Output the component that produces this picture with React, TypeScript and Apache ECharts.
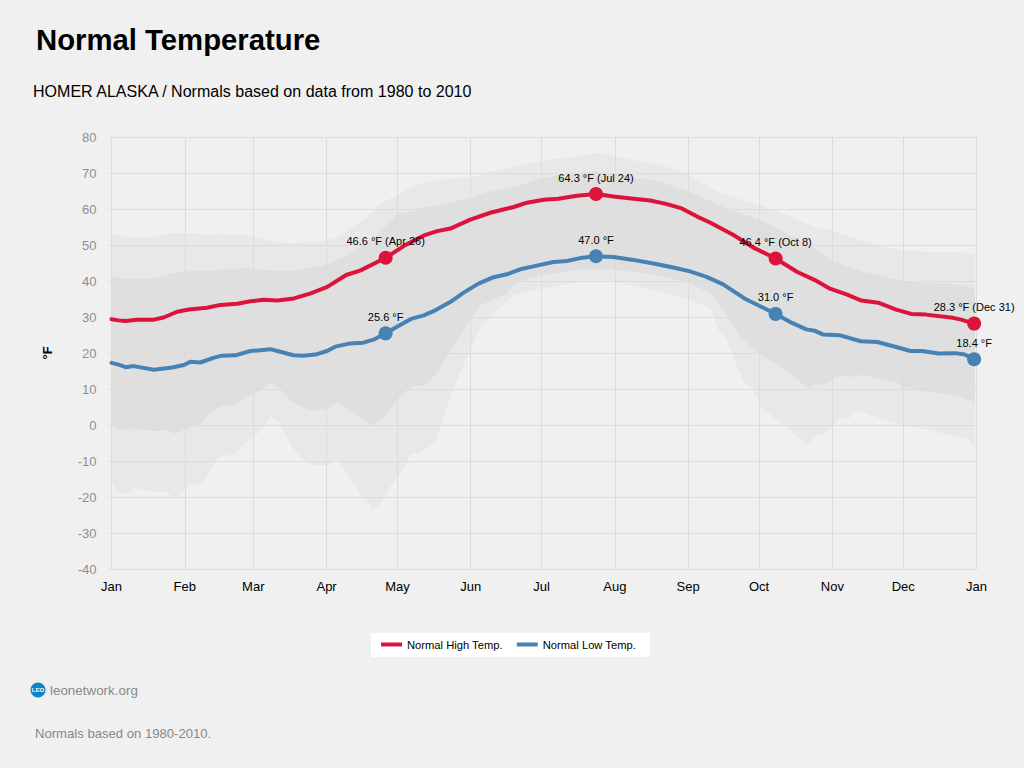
import React, { useEffect, useRef } from "react";
import * as echarts from "echarts";

type Pt = number[];
const monthStarts = [0, 31, 60, 91, 121, 152, 182, 213, 244, 274, 305, 335, 366];
const monthNames = ["Jan", "Feb", "Mar", "Apr", "May", "Jun", "Jul", "Aug", "Sep", "Oct", "Nov", "Dec", "Jan"];
const yTicks = { min: -40, max: 80, interval: 10 };

const highSeries: Pt[] = [[0,29.5],[3,29.2],[6,29],[10.8,29.4],[17.9,29.4],[22,30],[27.8,31.6],[32.7,32.2],[40.4,32.7],[46.1,33.5],[53.2,33.8],[58.8,34.5],[64.2,34.9],[70.2,34.7],[77.2,35.3],[84.3,36.7],[91.3,38.5],[99.3,41.8],[105.4,43.1],[116,46.6],[124.3,50.1],[132.2,52.8],[137.8,54],[143.4,54.7],[151.8,57.2],[160.3,59.1],[170.2,60.7],[175.8,61.9],[182.8,62.7],[189.1,63],[197,63.8],[205,64.3],[212.4,63.6],[220.8,63],[228,62.5],[235,61.5],[241.3,60.3],[247.6,58.1],[253.2,56.4],[263.2,52.9],[271.6,49.4],[281,46.4],[290,42.7],[297.6,40.4],[304,38],[311,36.4],[317.3,34.7],[324.4,34.1],[332,32.2],[338.4,31],[344.7,30.8],[356,29.9],[359.5,29.4],[365,28.3]];
const lowSeries: Pt[] = [[0,17.4],[3,16.9],[6,16.2],[9.4,16.5],[17.9,15.5],[25.7,16.1],[30.6,16.8],[33.4,17.7],[37.6,17.5],[43.1,18.8],[46.7,19.4],[52.4,19.5],[58.8,20.7],[63,20.9],[67.2,21.2],[71.4,20.5],[77,19.5],[81.2,19.4],[86.3,19.7],[91.2,20.7],[94.7,21.9],[101,22.8],[106.6,23],[111.5,24],[116,25.6],[120.8,27.4],[127.1,29.7],[132.1,30.6],[137,32],[143.3,34.3],[149,36.9],[155.3,39.4],[161.7,41.2],[167.3,42],[172.9,43.4],[180,44.4],[187,45.4],[192.6,45.7],[198.3,46.5],[205,47],[212.4,46.8],[220.8,46],[229.3,45],[237.7,43.9],[244.8,42.8],[251.8,41.3],[258.8,39.2],[267.8,35.3],[274.9,33],[281,31],[287,28.8],[294,26.7],[297.6,26.3],[301,25.3],[308,25.1],[317,23.4],[324,23.2],[332,21.8],[338,20.7],[343,20.7],[350,20],[357,20.1],[361,19.7],[365,18.4]];

const outerTop: Pt[] = [[0,53],[3,52.9],[6.5,52.2],[17.9,52.4],[25,53.4],[33.4,53.5],[37.6,53.1],[47.4,53.2],[58.8,52.8],[67.2,51.3],[75.6,50.5],[79.8,50.8],[89.8,51.2],[95.4,52.4],[101,54.7],[108,57.8],[112.2,60.8],[120.7,64],[129.2,67],[139,68.2],[151,69.1],[154.5,69.1],[157.3,70],[170,71.9],[182.8,73.7],[192.6,74.4],[204,75.6],[209.6,75.4],[220.7,73.7],[232.1,72.4],[239.2,71],[244.1,69.6],[255.4,65.2],[266,62.8],[274.4,61.3],[285.7,58.5],[298.4,54.8],[304,54.3],[312.5,52.4],[322.4,50.4],[335,48.6],[347.8,48.1],[360.5,48.1],[365.4,47.4]];
const innerTop: Pt[] = [[0,41.5],[6,40.7],[17.2,40.9],[25.7,42.2],[33.4,43],[40.4,42.9],[47.4,43.4],[57.4,43.7],[68.6,43],[75.6,42.9],[84,43.7],[91.2,44.8],[98.2,46.7],[105.2,49.6],[112.3,52.9],[120.7,58.5],[130.5,60.3],[151.7,63.1],[157.3,64.5],[172.9,66.8],[181.3,68.6],[192.6,70],[204,70.5],[212.4,70],[223.7,68.6],[232.1,67.7],[244.1,65],[260.3,60.3],[274.4,57.1],[287.1,52.9],[298.4,48.8],[304,46],[318.2,42.7],[329.5,40.9],[339.3,39.8],[352,39.5],[360.5,38.8],[365.4,37.9]];
const innerBottom: Pt[] = [[0,0.6],[2.4,-0.8],[6,-1.4],[9.4,-0.7],[17.2,-1.5],[23.6,-1.3],[26.4,-2.3],[32.7,-0.6],[37.6,0.4],[43.2,4.1],[46.8,5.4],[51.7,5.6],[58.8,8.4],[63,9.6],[67.2,11.9],[71.4,10.3],[75.6,7],[79.8,5.4],[85.6,4.1],[91.2,4.7],[95.4,6.4],[101,4.3],[106.6,1.7],[110.8,0.2],[114.4,1.5],[118,4.3],[122.2,8.4],[127.1,10.9],[132.1,11.2],[137,14],[143.4,20.5],[151.8,29.7],[156,33.4],[167.3,36.7],[171.5,39.9],[181.3,41.6],[198.3,43.3],[212.4,43.3],[226.5,42.2],[243.3,39.9],[244.8,39.5],[253.3,36.7],[259.6,31.6],[266,24.7],[273.7,20],[282.2,16.8],[294.2,10.6],[299.1,11.7],[301,11.3],[308.3,13.8],[312.5,13.4],[315.4,14],[321,13.6],[332,12],[335,10.7],[343,9.6],[357,8.4],[365.4,6.6]];
const outerBottom: Pt[] = [[0,-15.6],[2.4,-18.4],[6,-19],[10,-17.3],[17.2,-18.5],[23.6,-18.4],[26.4,-20.5],[32.7,-16.8],[38.3,-16.2],[41.1,-13.3],[44.6,-9.2],[47.4,-8.3],[51.7,-8.2],[58.8,-3.6],[63.7,-1.3],[67.2,2.6],[70.7,1],[76.3,-5.9],[83.3,-11],[91.2,-11],[95.4,-9.4],[100.3,-13.8],[105.9,-19.4],[110.8,-23.3],[114.3,-21.7],[117.3,-17.5],[122.2,-13.3],[127.1,-7.6],[129.9,-8],[137,-4.5],[142.6,6.1],[146.1,12.6],[151.8,20.9],[156,27.4],[159.5,29.7],[170.1,36.2],[181.3,38],[198.3,39.9],[212.4,39.9],[226.5,38],[243.3,35.3],[244.8,34.9],[253.3,32.5],[256.8,26.5],[259.6,24.7],[267.4,12.2],[271.6,9.9],[274.4,5.2],[282.9,1],[294.2,-5.4],[299.1,-2.2],[301.2,-2.8],[308.3,2.4],[311.8,1.8],[315,4.3],[321,2.9],[335,0.1],[343.3,-0.8],[357.5,-3.1],[361.7,-3.6],[365.4,-5.5]];

const highMarks: [number, number, string][] = [[116, 46.6, "46.6 °F (Apr 26)"], [205, 64.3, "64.3 °F (Jul 24)"], [281, 46.4, "46.4 °F (Oct 8)"], [365, 28.3, "28.3 °F (Dec 31)"]];
const lowMarks: [number, number, string][] = [[116, 25.6, "25.6 °F"], [205, 47.0, "47.0 °F"], [281, 31.0, "31.0 °F"], [365, 18.4, "18.4 °F"]];

const FONT = '"Liberation Sans", Arial, sans-serif';
const RED = "#dc143c";
const BLUE = "#4682b4";

function band(top: Pt[], bottom: Pt[], fill: string) {
  const poly = [...top, ...[...bottom].reverse()];
  return {
    type: "custom",
    silent: true,
    data: poly,
    encode: { x: 0, y: 1 },
    renderItem: (params: any, api: any) => {
      if (params.dataIndex !== 0) return null;
      return {
        type: "polygon",
        shape: { points: poly.map((p) => api.coord(p)) },
        style: { fill },
      };
    },
    z: 1,
  };
}

function marks(list: [number, number, string][], color: string) {
  return {
    type: "scatter",
    silent: true,
    symbol: "circle",
    symbolSize: 14,
    itemStyle: { color, opacity: 1 },
    z: 5,
    data: list.map(([d, v, t]) => ({
      value: [d, v],
      label: {
        show: true,
        position: "top",
        distance: 4,
        formatter: t,
        color: "#000",
        fontSize: 11,
        fontFamily: FONT,
      },
    })),
  };
}

function line(name: string, data: Pt[], color: string) {
  return {
    name,
    type: "line",
    data,
    showSymbol: false,
    symbol: "none",
    smooth: false,
    silent: true,
    lineStyle: { color, width: 4, join: "round", cap: "round" },
    itemStyle: { color },
    z: 4,
  };
}

export default function App() {
  const ref = useRef<HTMLDivElement>(null);
  useEffect(() => {
    document.body.style.margin = "0";
    document.body.style.background = "#f0f0f0";
    const chart = echarts.init(ref.current!, undefined, { renderer: "svg" });
    chart.setOption({
      animation: false,
      backgroundColor: "#f0f0f0",
      textStyle: { fontFamily: FONT },
      grid: { left: 111.5, top: 137.5, width: 865, height: 432, containLabel: false },
      legend: {
        data: ["Normal High Temp.", "Normal Low Temp."],
        icon: "rect",
        left: 371,
        top: 633,
        backgroundColor: "#ffffff",
        padding: [6, 14, 7, 10],
        itemWidth: 21,
        itemHeight: 4,
        itemGap: 14,
        textStyle: { color: "#000", fontSize: 11.2, fontFamily: FONT },
      },
      xAxis: {
        type: "value",
        min: 0,
        max: 366,
        axisLine: { show: true, lineStyle: { color: "#dddddd" } },
        axisTick: { show: false, customValues: monthStarts },
        axisLabel: {
          customValues: monthStarts,
          color: "#000",
          fontSize: 13,
          fontFamily: FONT,
          margin: 10,
          hideOverlap: false,
          showMinLabel: true,
          showMaxLabel: true,
          formatter: (v: number) => monthNames[monthStarts.indexOf(v)] ?? "",
        },
        splitLine: { show: true, lineStyle: { color: "#dddddd", width: 1 } },
      },
      yAxis: {
        type: "value",
        min: yTicks.min,
        max: yTicks.max,
        interval: yTicks.interval,
        axisLine: { show: true, lineStyle: { color: "#dddddd" } },
        axisTick: { show: true, length: 3, lineStyle: { color: "#dddddd" } },
        axisLabel: { color: "#8f8f8f", fontSize: 13, fontFamily: FONT, margin: 15 },
        splitLine: { show: true, lineStyle: { color: "#dddddd", width: 1 } },
      },
      series: [
        band(outerTop, outerBottom, "rgba(220,220,220,0.4)"),
        band(innerTop, innerBottom, "rgba(220,220,220,0.8)"),
        line("Normal High Temp.", highSeries, RED),
        line("Normal Low Temp.", lowSeries, BLUE),
        marks(highMarks, RED),
        marks(lowMarks, BLUE),
      ],
      graphic: [
        { type: "text", x: 36, y: 25, style: { text: "Normal Temperature", fill: "#000", font: `bold 29.3px ${FONT}` } },
        { type: "text", x: 33, y: 83, style: { text: "HOMER ALASKA / Normals based on data from 1980 to 2010", fill: "#000", font: `16.05px ${FONT}` } },
        { type: "text", x: 47, y: 353, rotation: Math.PI / 2, style: { text: "°F", fill: "#000", font: `bold 13px ${FONT}`, align: "center", verticalAlign: "middle" } },
        { type: "circle", shape: { cx: 38, cy: 690, r: 7.5 }, style: { fill: "#0a84cc" } },
        { type: "text", x: 38, y: 690, style: { text: "LEO", fill: "#fff", font: `bold 6px ${FONT}`, align: "center", verticalAlign: "middle" } },
        { type: "text", x: 50, y: 684, style: { text: "leonetwork.org", fill: "#888888", font: `13.4px ${FONT}` } },
        { type: "text", x: 35, y: 727, style: { text: "Normals based on 1980-2010.", fill: "#888888", font: `13.1px ${FONT}` } },
      ],
    });
    return () => chart.dispose();
  }, []);
  return <div ref={ref} style={{ width: 1024, height: 768 }} />;
}
